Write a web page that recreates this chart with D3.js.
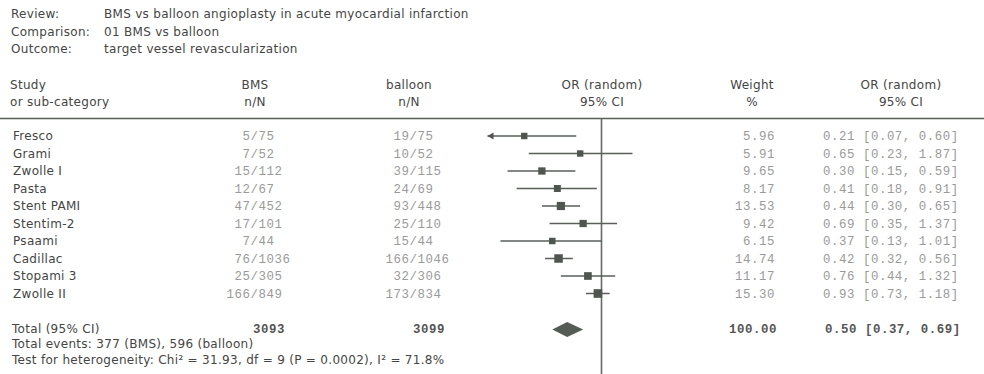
<!DOCTYPE html>
<html>
<head>
<meta charset="utf-8">
<script src="https://cdn.jsdelivr.net/npm/d3@7"></script>
<style>
  html, body { margin: 0; padding: 0; background: #fff; }
  svg { display: block; }
  .sans { font-family: "DejaVu Sans", "Open Sans", sans-serif; font-size: 12px; letter-spacing: 0.3px; fill: #454545; }
  .mono { font-family: "Liberation Mono", "DejaVu Sans Mono", monospace; font-size: 12.4px; letter-spacing: 0.55px; fill: #9a9a9a; }
  .monoBold { font-family: "Liberation Mono", "DejaVu Sans Mono", monospace; font-size: 12.4px; letter-spacing: 0.55px; font-weight: bold; fill: #555; }
</style>
</head>
<body>
<svg id="chart" width="984" height="374"></svg>
<script>
// Trial-level data: target vessel revascularization, BMS vs balloon
const studies = ["Fresco", "Grami", "Zwolle I", "Pasta", "Stent PAMI", "Stentim-2", "Psaami", "Cadillac", "Stopami 3", "Zwolle II"];
const bmsEvents = [5, 7, 15, 12, 47, 17, 7, 76, 25, 166];
const bmsTotal = [75, 52, 112, 67, 452, 101, 44, 1036, 305, 849];
const balloonEvents = [19, 10, 39, 24, 93, 25, 15, 166, 32, 173];
const balloonTotal = [75, 52, 115, 69, 448, 110, 44, 1046, 306, 834];
const weights = [5.96, 5.91, 9.65, 8.17, 13.53, 9.42, 6.15, 14.74, 11.17, 15.30];
const oddsRatio = [0.21, 0.65, 0.30, 0.41, 0.44, 0.69, 0.37, 0.42, 0.76, 0.93];
const ciLower = [0.07, 0.23, 0.15, 0.18, 0.30, 0.35, 0.13, 0.32, 0.44, 0.73];
const ciUpper = [0.60, 1.87, 0.59, 0.91, 0.65, 1.37, 1.01, 0.56, 1.32, 1.18];

// Pooled random-effects estimate
const pooledOR = 0.50, pooledLower = 0.37, pooledUpper = 0.69;
const pooledWeight = 100.00;
const bmsGrandTotal = 3093, balloonGrandTotal = 3099;

const headerLines = [
  ["Review:", "BMS vs balloon angioplasty in acute myocardial infarction"],
  ["Comparison:", "01 BMS vs balloon"],
  ["Outcome:", "target vessel revascularization"]
];
const footerLines = [
  "Total events: 377 (BMS), 596 (balloon)",
  "Test for heterogeneity: Chi\u00B2 = 31.93, df = 9 (P = 0.0002), I\u00B2 = 71.8%"
];

const svg = d3.select("#chart");
const W = 984, H = 374;

// Log scale for the odds ratio, 0.1 to 10
const x = d3.scaleLog().domain([0.1, 10]).range([487.5, 715.5]).clamp(true);
const y = d3.scaleLinear().domain([0, 1]).range([136, 153.5]);
const side = d3.scaleLinear().domain([5, 16]).range([6.2, 8.8]);

const lineCol = "#5a5f5a", markCol = "#4f554f";

// Title block
const hdr = svg.append("g");
headerLines.forEach((d, i) => {
  hdr.append("text").attr("class", "sans").attr("x", 11).attr("y", 14 + i * 17.6).attr("dy", "0.35em").text(d[0]);
  hdr.append("text").attr("class", "sans").attr("x", 104).attr("y", 14 + i * 17.6).attr("dy", "0.35em").text(d[1]);
});

// Column headings
const cols = [
  { x: 10, anchor: "start", t: ["Study", "or sub-category"] },
  { x: 255, anchor: "middle", t: ["BMS", "n/N"] },
  { x: 409, anchor: "middle", t: ["balloon", "n/N"] },
  { x: 602, anchor: "middle", t: ["OR (random)", "95% CI"] },
  { x: 752, anchor: "middle", t: ["Weight", "%"] },
  { x: 901, anchor: "middle", t: ["OR (random)", "95% CI"] }
];
cols.forEach(c => {
  c.t.forEach((s, j) => {
    svg.append("text").attr("class", "sans").attr("x", c.x).attr("y", 85 + j * 17)
      .attr("dy", "0.35em").attr("text-anchor", c.anchor).text(s);
  });
});

// Rule under the headings and the line of no effect
svg.append("line").attr("x1", 0).attr("x2", W).attr("y1", 118.5).attr("y2", 118.5)
  .attr("stroke", lineCol).attr("stroke-width", 1.5);
svg.append("line").attr("x1", x(1)).attr("x2", x(1)).attr("y1", 118.5).attr("y2", H)
  .attr("stroke", "#666a66").attr("stroke-width", 1.6);

const fmt2 = d3.format(".2f");

// Study rows
const rows = svg.append("g").selectAll("g").data(studies).join("g")
  .attr("transform", (d, i) => `translate(0,${y(i)})`);

rows.append("text").attr("class", "sans").attr("x", 13).attr("dy", "0.35em").text(d => d);

function fraction(sel, slashX, num, den) {
  sel.append("text").attr("class", "mono").attr("x", slashX - 4).attr("dy", "0.35em")
    .attr("text-anchor", "end").text((d, i) => num[i]);
  sel.append("text").attr("class", "mono").attr("x", slashX - 4).attr("dy", "0.35em")
    .attr("text-anchor", "start").text((d, i) => "/" + den[i]);
}
fraction(rows, 254.5, bmsEvents, bmsTotal);
fraction(rows, 413.5, balloonEvents, balloonTotal);

rows.append("text").attr("class", "mono").attr("x", 775).attr("dy", "0.35em")
  .attr("text-anchor", "end").text((d, i) => fmt2(weights[i]));
rows.append("text").attr("class", "mono").attr("x", 823).attr("dy", "0.35em")
  .text((d, i) => `${fmt2(oddsRatio[i])} [${fmt2(ciLower[i])}, ${fmt2(ciUpper[i])}]`);

// Confidence intervals
rows.append("line")
  .attr("x1", (d, i) => x(ciLower[i])).attr("x2", (d, i) => x(ciUpper[i]))
  .attr("stroke", lineCol).attr("stroke-width", 1.5);

// Arrow where the interval runs past the axis range
rows.filter((d, i) => ciLower[i] < 0.1).append("path")
  .attr("d", () => { const x0 = x(0.1); return `M${x0},0 L${x0 + 6},-3.5 L${x0 + 6},3.5 Z`; })
  .attr("fill", markCol);

// Point estimates sized by weight
rows.append("rect")
  .attr("x", (d, i) => x(oddsRatio[i]) - side(weights[i]) / 2)
  .attr("y", (d, i) => -side(weights[i]) / 2)
  .attr("width", (d, i) => side(weights[i]))
  .attr("height", (d, i) => side(weights[i]))
  .attr("fill", markCol);

// Pooled total row
const totY = 328.5;
svg.append("text").attr("class", "sans").attr("x", 12).attr("y", totY).attr("dy", "0.35em").text("Total (95% CI)");
svg.append("text").attr("class", "monoBold").attr("x", 253).attr("y", totY).attr("dy", "0.35em").text(bmsGrandTotal);
svg.append("text").attr("class", "monoBold").attr("x", 413).attr("y", totY).attr("dy", "0.35em").text(balloonGrandTotal);
svg.append("text").attr("class", "monoBold").attr("x", 777).attr("y", totY).attr("dy", "0.35em")
  .attr("text-anchor", "end").text(fmt2(pooledWeight));
svg.append("text").attr("class", "monoBold").attr("x", 825).attr("y", totY).attr("dy", "0.35em")
  .text(`${fmt2(pooledOR)} [${fmt2(pooledLower)}, ${fmt2(pooledUpper)}]`);

svg.append("path")
  .attr("d", `M${x(pooledLower)},${totY + 1} L${x(pooledOR)},${totY - 6.5} L${x(pooledUpper)},${totY + 1} L${x(pooledOR)},${totY + 8.5} Z`)
  .attr("fill", "#555b55");

footerLines.forEach((s, i) => {
  svg.append("text").attr("class", "sans").attr("x", 12).attr("y", 344 + i * 16).attr("dy", "0.35em").text(s);
});
</script>
</body>
</html>
